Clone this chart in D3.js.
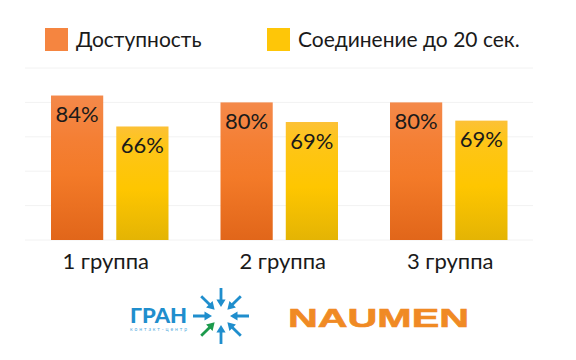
<!DOCTYPE html>
<html>
<head>
<meta charset="utf-8">
<script src="https://cdn.jsdelivr.net/npm/d3@7"></script>
<style>
  html, body { margin: 0; background: #fff; }
  text { font-family: Lato, "Noto Sans", sans-serif; fill: #1a1a1a; }
</style>
</head>
<body>
<svg id="area" width="576" height="360"></svg>
<script>
const groups = ['1 группа', '2 группа', '3 группа'];
const seriesNames = ['Доступность', 'Соединение до 20 сек.'];
const availability = [84, 80, 80];
const connection = [66, 68.6, 69.4];
const yTicks = [0, 20, 40, 60, 80, 100];
const blueArrowAngles = [0, 45, 90, 180, 225, 270, 315];
const greenArrowAngle = 135;

const svg = d3.select('#area');

const x0 = d3.scaleBand().domain(groups).range([25, 533.5]);
const x1 = d3.scaleBand().domain(seriesNames).range([26, 143.5]).paddingInner(0.2);
const y = d3.scaleLinear().domain([0, 100]).range([240, 68]);

const defs = svg.append('defs');
function gradient(id, stops) {
  const g = defs.append('linearGradient').attr('id', id)
    .attr('x1', 0).attr('y1', 0).attr('x2', 0).attr('y2', 1);
  stops.forEach((s) => g.append('stop').attr('offset', s[0]).attr('stop-color', s[1]));
}
gradient('orange', [[0, '#f4894a'], [0.3, '#f47f34'], [0.55, '#f37a28'], [1, '#e1661a']]);
gradient('yellow', [[0, '#fcc136'], [0.15, '#fec51a'], [0.55, '#fec600'], [1, '#e4b404']]);

// grid
svg.append('g').selectAll('line')
  .data(yTicks)
  .enter().append('line')
  .attr('x1', 25)
  .attr('x2', 533)
  .attr('y1', (d) => y(d))
  .attr('y2', (d) => y(d))
  .attr('stroke', '#f2f2f2')
  .attr('stroke-width', 1);

// bars
const rows = groups.map((g, i) => [
  { group: g, series: seriesNames[0], value: availability[i], fill: 'url(#orange)' },
  { group: g, series: seriesNames[1], value: connection[i], fill: 'url(#yellow)' },
]);
const groupSel = svg.append('g').selectAll('g')
  .data(rows)
  .enter().append('g')
  .attr('transform', (d) => `translate(${x0(d[0].group)}, 0)`);

groupSel.selectAll('rect')
  .data((d) => d)
  .enter().append('rect')
  .attr('x', (d) => x1(d.series))
  .attr('y', (d) => y(d.value))
  .attr('width', x1.bandwidth())
  .attr('height', (d) => y(0) - y(d.value))
  .attr('fill', (d) => d.fill);

groupSel.selectAll('.val')
  .data((d) => d)
  .enter().append('text')
  .attr('class', 'val')
  .attr('x', (d) => x1(d.series) + x1.bandwidth() / 2)
  .attr('y', (d) => y(d.value) + 26.5)
  .attr('text-anchor', 'middle')
  .style('font-size', '22px')
  .text((d) => `${Math.round(d.value)}%`);

// category labels, the reference does not centre them under the groups
const labelShift = [-4, 3.5, 1.5];
svg.append('g').selectAll('text')
  .data(groups)
  .enter().append('text')
  .attr('x', (d, i) => x0(d) + x0.bandwidth() / 2 + labelShift[i])
  .attr('y', 269)
  .attr('text-anchor', 'middle')
  .style('font-size', '22px')
  .text((d) => d);

// legend
const legendX = [45, 267];
const legendColors = ['#f58540', '#fec608'];
const legend = svg.append('g').selectAll('g')
  .data(seriesNames)
  .enter().append('g')
  .attr('transform', (d, i) => `translate(${legendX[i]}, 28)`);
legend.append('rect')
  .attr('width', 23)
  .attr('height', 23)
  .attr('fill', (d, i) => legendColors[i]);
legend.append('text')
  .attr('x', 31)
  .attr('y', 19)
  .style('font-size', '21px')
  .text((d) => d);

// logos
const gran = svg.append('g');
gran.append('text')
  .attr('x', 130)
  .attr('y', 323)
  .attr('textLength', 57)
  .attr('lengthAdjust', 'spacingAndGlyphs')
  .style('font-size', '21px')
  .style('font-weight', 900)
  .style('fill', '#1f8ecd')
  .text('ГРАН');
gran.append('text')
  .attr('x', 130)
  .attr('y', 331)
  .attr('textLength', 57)
  .style('font-size', '5px')
  .style('fill', '#5aaede')
  .text('контакт-центр');

function drawArrow(angle, color) {
  gran.append('path')
    .attr('d', 'M28,-1.4 L16.5,-1.4 L16.5,-4.6 L9,0 L16.5,4.6 L16.5,1.4 L28,1.4 Z')
    .attr('transform', `translate(221, 316) rotate(${angle})`)
    .attr('fill', color);
}
blueArrowAngles.forEach((a) => drawArrow(a, '#1f8ecd'));
drawArrow(greenArrowAngle, '#1c9a4c');

svg.append('text')
  .attr('x', 288)
  .attr('y', 327)
  .attr('textLength', 181)
  .attr('lengthAdjust', 'spacingAndGlyphs')
  .style('font-family', '"Liberation Sans", sans-serif')
  .style('font-size', '26.5px')
  .style('font-weight', 700)
  .style('fill', '#f08a24')
  .style('stroke', '#f08a24')
  .style('stroke-width', 0.6)
  .text('NAUMEN');
</script>
</body>
</html>
